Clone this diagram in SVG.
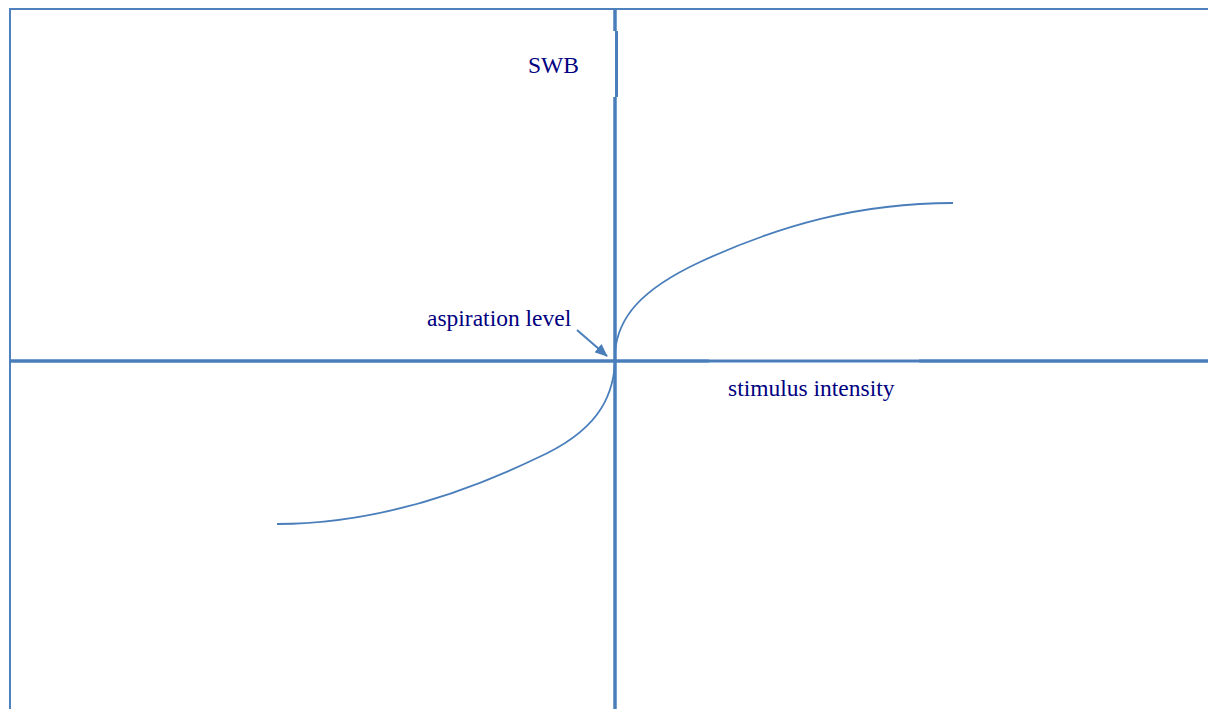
<svg xmlns="http://www.w3.org/2000/svg" width="1208" height="709" viewBox="0 0 1208 709">
<style>
.frame{stroke:#4f81bd;stroke-width:2;fill:none}
.axis{stroke:#4a7ebb;stroke-width:3.5;fill:none}
.axis2{stroke:#4a7ebb;stroke-width:3;fill:none}
.curve{stroke:#4a7ebb;stroke-width:1.8;fill:none}
.lbl{font-family:"Liberation Serif",serif;font-size:23.5px;fill:#000080}
</style>
<defs>
<marker id="ah" markerWidth="13" markerHeight="11" refX="12" refY="5.5" orient="auto" markerUnits="userSpaceOnUse">
<path d="M0,0 L13,5.5 L0,11 z" fill="#4a7ebb"/>
</marker>
</defs>
<rect width="1208" height="709" fill="#fff"/>
<g id="frame">
<line class="frame" x1="10" y1="9" x2="1208" y2="9"/>
<line class="frame" x1="10" y1="8" x2="10" y2="709"/>
</g>
<g id="axes">
<line class="axis" x1="615" y1="9" x2="615" y2="31"/>
<line class="axis2" x1="616.5" y1="31" x2="616.5" y2="97"/>
<line class="axis" x1="615" y1="97" x2="615" y2="709"/>
<line class="axis" x1="10" y1="361" x2="709" y2="361"/>
<line class="axis2" x1="709" y1="361" x2="919" y2="361"/>
<line class="axis" x1="919" y1="361" x2="1208" y2="361"/>
</g>
<g id="connectors">
<path class="curve" d="M615,352 C618,318 640,290 700,262 C780,225 860,203 953,203"/>
<path class="curve" d="M615,362 C613,400 595,432 537,458 C460,495 370,524 277,524"/>
<line x1="577" y1="330" x2="607" y2="356" stroke="#4a7ebb" stroke-width="2" marker-end="url(#ah)"/>
</g>
<g id="swb"><text class="lbl" x="528" y="73">SWB</text></g>
<g id="aspiration"><text class="lbl" x="427" y="326">aspiration level</text></g>
<g id="stimulus"><text class="lbl" x="728" y="396">stimulus intensity</text></g>
</svg>
